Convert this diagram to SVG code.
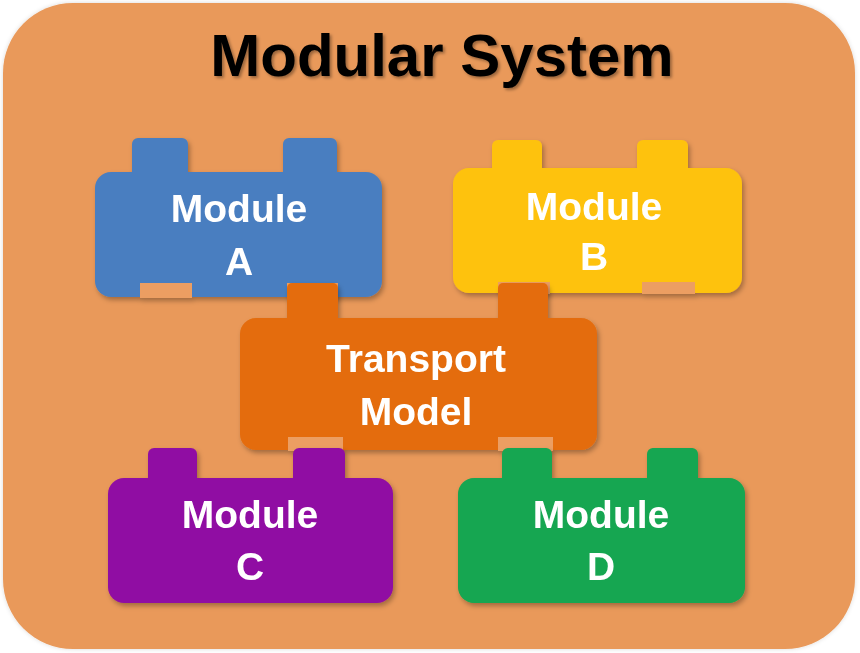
<svg xmlns="http://www.w3.org/2000/svg" width="860" height="653" viewBox="0 0 860 653">
  <defs>
    <filter id="sh" x="-10%" y="-10%" width="125%" height="130%">
      <feDropShadow dx="2" dy="3" stdDeviation="2.5" flood-color="#000" flood-opacity="0.3"/>
    </filter>
    <filter id="bgsh" x="-5%" y="-5%" width="110%" height="110%">
      <feDropShadow dx="0" dy="0" stdDeviation="2" flood-color="#000" flood-opacity="0.15"/>
    </filter>
    <filter id="tsh" x="-5%" y="-10%" width="110%" height="130%">
      <feDropShadow dx="2" dy="2" stdDeviation="1.5" flood-color="#000" flood-opacity="0.35"/>
    </filter>
  </defs>
  <style>
    .lbl { font-family: "Liberation Sans", Arial, sans-serif; font-weight: bold; font-size: 39px; fill: #FFFFFF; text-anchor: middle; }
    .title { font-family: "Liberation Sans", Arial, sans-serif; font-weight: bold; font-size: 60px; fill: #000000; text-anchor: middle; }
    .notch { fill: #EC9E62; }
    .a { fill: #4A7EC0; }
    .b { fill: #FEC20C; }
    .t { fill: #E46C0A; }
    .c { fill: #900BA3; }
    .d { fill: #14A651; }
  </style>
  <rect width="860" height="653" fill="#FFFFFF"/>
  <g id="system">
    <rect x="3" y="3" width="852" height="646" rx="70" ry="70" fill="#E9995A" filter="url(#bgsh)"/>
    <text class="title" x="442" y="76" filter="url(#tsh)">Modular System</text>
  </g>

  <g id="moduleA" filter="url(#sh)">
    <rect class="a" x="132" y="138" width="56" height="40" rx="6"/>
    <rect class="a" x="283" y="138" width="54" height="40" rx="6"/>
    <rect class="a" x="95" y="172" width="287" height="125" rx="16"/>
    <rect class="notch" x="140" y="283" width="52" height="15"/>
    <rect class="notch" x="287" y="283" width="51" height="15"/>
    <text class="lbl" x="239" y="222">Module</text>
    <text class="lbl" x="239" y="275">A</text>
  </g>

  <g id="moduleB" filter="url(#sh)">
    <rect class="b" x="492" y="140" width="50" height="34" rx="6"/>
    <rect class="b" x="637" y="140" width="51" height="34" rx="6"/>
    <rect class="b" x="453" y="168" width="289" height="125" rx="16"/>
    <rect class="notch" x="498" y="282" width="52" height="12"/>
    <rect class="notch" x="642" y="282" width="53" height="12"/>
    <text class="lbl" x="594" y="220">Module</text>
    <text class="lbl" x="594" y="270">B</text>
  </g>

  <g id="transport" filter="url(#sh)">
    <rect class="t" x="287" y="283" width="51" height="40" rx="5"/>
    <rect class="t" x="498" y="283" width="50" height="40" rx="5"/>
    <rect class="t" x="240" y="318" width="357" height="132" rx="16"/>
    <rect class="notch" x="288" y="437" width="55" height="14"/>
    <rect class="notch" x="498" y="437" width="55" height="14"/>
    <text class="lbl" x="416" y="372">Transport</text>
    <text class="lbl" x="416" y="425">Model</text>
  </g>

  <g id="moduleC" filter="url(#sh)">
    <rect class="c" x="148" y="448" width="49" height="36" rx="6"/>
    <rect class="c" x="293" y="448" width="52" height="36" rx="6"/>
    <rect class="c" x="108" y="478" width="285" height="125" rx="16"/>
    <text class="lbl" x="250" y="528">Module</text>
    <text class="lbl" x="250" y="580">C</text>
  </g>

  <g id="moduleD" filter="url(#sh)">
    <rect class="d" x="502" y="448" width="50" height="36" rx="6"/>
    <rect class="d" x="647" y="448" width="51" height="36" rx="6"/>
    <rect class="d" x="458" y="478" width="287" height="125" rx="16"/>
    <text class="lbl" x="601" y="528">Module</text>
    <text class="lbl" x="601" y="580">D</text>
  </g>

  <g id="connectors"></g>
</svg>
